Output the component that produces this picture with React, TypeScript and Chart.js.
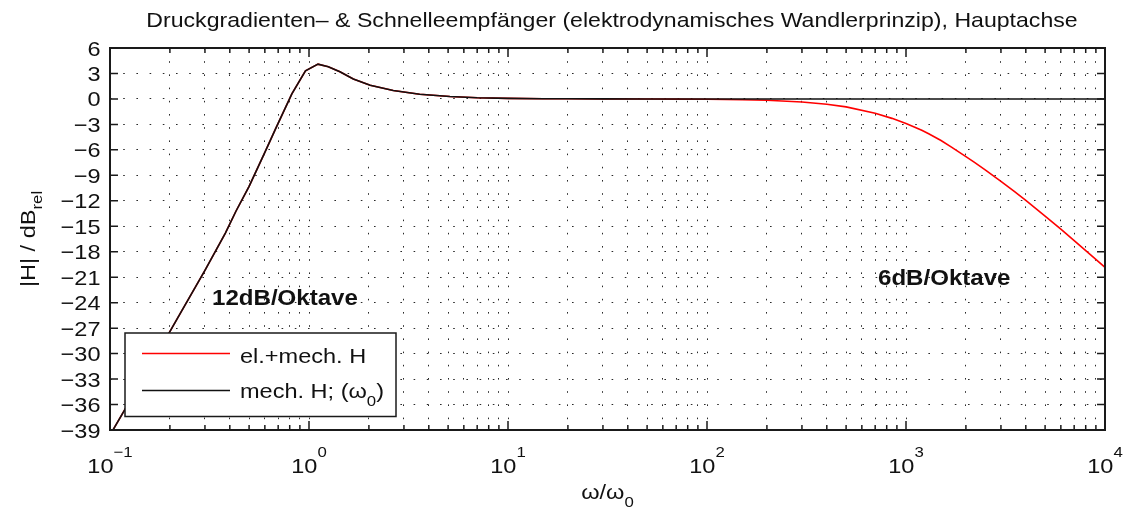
import React, { useEffect, useRef } from 'react';
import { Chart, registerables } from 'chart.js';

Chart.register(...registerables);

// ---- data ----
const omega = [0.1, 0.13, 0.17, 0.22, 0.3, 0.38, 0.43, 0.5, 0.6, 0.68, 0.82, 0.96, 1.11, 1.25, 1.43, 1.67, 2.03, 2.65, 3.6, 5.1, 7, 10, 15, 20, 30, 50, 70, 100, 150, 200, 300, 400, 500, 700, 850, 1000, 1100, 1200, 1300, 1500, 1700, 2000, 2200, 2500, 3000, 3500, 4000, 5000, 6000, 7000, 8500, 10000];
const mechDb = [-39.6, -35.0, -30.3, -25.7, -20.2, -15.8, -13.2, -10.3, -6.3, -3.5, 0.6, 3.3, 4.1, 3.8, 3.2, 2.35, 1.6, 1.0, 0.56, 0.28, 0.14, 0.07, 0.03, 0.02, 0.01, 0, 0, 0, 0, 0, 0, 0, 0, 0, 0, 0, 0, 0, 0, 0, 0, 0, 0, 0, 0, 0, 0, 0, 0, 0, 0, 0];
const elDb = [-39.6, -35.0, -30.3, -25.7, -20.2, -15.8, -13.2, -10.3, -6.3, -3.5, 0.6, 3.3, 4.1, 3.8, 3.2, 2.35, 1.6, 1.0, 0.56, 0.28, 0.14, 0.07, 0.03, 0.02, 0.01, 0, -0.02, -0.04, -0.09, -0.16, -0.36, -0.62, -0.94, -1.68, -2.29, -2.9, -3.3, -3.7, -4.1, -4.9, -5.7, -6.8, -7.45, -8.35, -9.7, -10.9, -11.95, -13.8, -15.35, -16.7, -18.4, -19.85];

const yTickValues = [-39, -36, -33, -30, -27, -24, -21, -18, -15, -12, -9, -6, -3, 0, 3, 6];
const xMajorTicks = [0.1, 1, 10, 100, 1000, 10000];
const xMajorExponents = ['\u22121', '0', '1', '2', '3', '4'];
const xMinorMultipliers = [2, 3, 4, 5, 6, 7, 8, 9];

const titleText = 'Druckgradienten\u2013 & Schnelleempfänger (elektrodynamisches Wandlerprinzip), Hauptachse';
const legendLabels = ['el.+mech. H', 'mech. H; (\u03c9'];
const seriesColors = ['#ff0000', '#111111'];

const FONT = '"Liberation Sans", Arial, Helvetica, sans-serif';
const SX = 1.12;

type Run = { t: string; size: number; dy?: number; bold?: boolean };

function drawRuns(ctx: CanvasRenderingContext2D, runs: Run[], x: number, y: number, align: 'left' | 'center' | 'right', rotate = 0, sx = SX) {
  ctx.save();
  ctx.translate(x, y);
  if (rotate) ctx.rotate(rotate);
  ctx.scale(sx, 1);
  ctx.textBaseline = 'alphabetic';
  ctx.textAlign = 'left';
  ctx.fillStyle = '#111';
  let total = 0;
  const widths = runs.map((r) => {
    ctx.font = `${r.bold ? 'bold ' : ''}${r.size}px ${FONT}`;
    const w = ctx.measureText(r.t).width;
    total += w;
    return w;
  });
  let cx = align === 'left' ? 0 : align === 'center' ? -total / 2 : -total;
  runs.forEach((r, i) => {
    ctx.font = `${r.bold ? 'bold ' : ''}${r.size}px ${FONT}`;
    ctx.fillText(r.t, cx, r.dy || 0);
    cx += widths[i];
  });
  ctx.restore();
}

const decorPlugin = {
  id: 'decor',
  afterDraw(chart: any) {
    const ctx: CanvasRenderingContext2D = chart.ctx;
    const { left, right, top, bottom } = chart.chartArea;
    const xs = chart.scales.x;
    const ys = chart.scales.y;

    // frame
    ctx.save();
    ctx.strokeStyle = '#1a1a1a';
    ctx.lineWidth = 2;
    ctx.strokeRect(left, top, right - left, bottom - top);

    // inner ticks
    ctx.lineWidth = 1.5;
    ctx.beginPath();
    for (const v of yTickValues) {
      const py = ys.getPixelForValue(v);
      ctx.moveTo(left, py); ctx.lineTo(left + 8, py);
      ctx.moveTo(right, py); ctx.lineTo(right - 8, py);
    }
    for (const t of xs.ticks) {
      const px = xs.getPixelForValue(t.value);
      const major = xMajorTicks.some((m) => Math.abs(m - t.value) / m < 1e-6);
      const len = major ? 9 : 5;
      ctx.moveTo(px, bottom); ctx.lineTo(px, bottom - len);
      ctx.moveTo(px, top); ctx.lineTo(px, top + len);
    }
    ctx.stroke();
    ctx.restore();

    // title
    drawRuns(ctx, [{ t: titleText, size: 21 }], 612, 27, 'center', 0, 1.1);

    // y tick labels
    for (const v of yTickValues) {
      const py = ys.getPixelForValue(v);
      const s = v < 0 ? '\u2212' + Math.abs(v) : String(v);
      drawRuns(ctx, [{ t: s, size: 21 }], left - 9.5, py + 7.5, 'right');
    }

    // x tick labels
    xMajorTicks.forEach((v, i) => {
      const px = xs.getPixelForValue(v);
      drawRuns(ctx, [{ t: '10', size: 21 }, { t: xMajorExponents[i], size: 15, dy: -16 }], px, bottom + 43, 'center');
    });

    // axis titles
    drawRuns(ctx, [{ t: '\u03c9/\u03c9', size: 21 }, { t: '0', size: 15, dy: 8 }], (left + right) / 2, bottom + 69, 'center');
    drawRuns(ctx, [{ t: '|H| / dB', size: 21 }, { t: 'rel', size: 15, dy: 7 }], 35, (top + bottom) / 2, 'center', -Math.PI / 2);

    // annotations
    drawRuns(ctx, [{ t: '12dB/Oktave', size: 21.5, bold: true }], 212, 305, 'left');
    drawRuns(ctx, [{ t: '6dB/Oktave', size: 21.5, bold: true }], 878, 285, 'left');

    // legend
    ctx.save();
    ctx.fillStyle = '#fff';
    ctx.fillRect(125, 333, 271, 83.5);
    ctx.strokeStyle = '#1a1a1a';
    ctx.lineWidth = 1.5;
    ctx.strokeRect(125, 333, 271, 83.5);
    ctx.lineWidth = 1.6;
    ctx.strokeStyle = seriesColors[0];
    ctx.beginPath(); ctx.moveTo(142, 353.5); ctx.lineTo(230, 353.5); ctx.stroke();
    ctx.strokeStyle = seriesColors[1];
    ctx.beginPath(); ctx.moveTo(142, 390.5); ctx.lineTo(230, 390.5); ctx.stroke();
    ctx.restore();
    drawRuns(ctx, [{ t: legendLabels[0], size: 21 }], 240, 363, 'left');
    drawRuns(ctx, [{ t: legendLabels[1], size: 21 }, { t: '0', size: 15, dy: 8 }, { t: ')', size: 21 }], 240, 398, 'left');
  },
};

export default function App() {
  const ref = useRef<HTMLCanvasElement | null>(null);
  useEffect(() => {
    if (!ref.current) return;
    const xGridTicks: number[] = [];
    xMajorTicks.forEach((d, i) => {
      xGridTicks.push(d);
      if (i < xMajorTicks.length - 1) xMinorMultipliers.forEach((m) => xGridTicks.push(m * d));
    });
    const chart = new Chart(ref.current, {
      type: 'line',
      data: {
        datasets: [
          {
            label: legendLabels[0],
            data: omega.map((w, i) => ({ x: w, y: elDb[i] })),
            borderColor: seriesColors[0],
            borderWidth: 1.6,
            pointRadius: 0,
            tension: 0,
            fill: false,
            order: 1,
          },
          {
            label: legendLabels[1],
            data: omega.map((w, i) => ({ x: w, y: mechDb[i] })),
            borderColor: seriesColors[1],
            borderWidth: 1.6,
            pointRadius: 0,
            tension: 0,
            fill: false,
            order: 0,
          },
        ],
      },
      options: {
        animation: false,
        responsive: false,
        devicePixelRatio: 1,
        layout: { padding: { top: 48, right: 22, bottom: 0, left: 0 } },
        plugins: { legend: { display: false }, title: { display: false }, tooltip: { enabled: false } },
        events: [],
        scales: {
          x: {
            type: 'logarithmic',
            min: 0.1,
            max: 10000,
            afterBuildTicks: (s: any) => { s.ticks = xGridTicks.map((v) => ({ value: v })); },
            afterFit: (s: any) => { s.height = 87; },
            ticks: { display: false },
            grid: { color: '#2a2a2a', lineWidth: 1, drawTicks: false },
            border: { display: false, dash: [1.6, 11.6] },
          },
          y: {
            type: 'linear',
            min: -39,
            max: 6,
            afterBuildTicks: (s: any) => { s.ticks = yTickValues.map((v) => ({ value: v })); },
            afterFit: (s: any) => { s.width = 110; },
            ticks: { display: false },
            grid: { color: '#2a2a2a', lineWidth: 1, drawTicks: false },
            border: { display: false, dash: [1.6, 11.6] },
          },
        },
      },
      plugins: [decorPlugin],
    } as any);
    return () => chart.destroy();
  }, []);
  return (
    <canvas
      ref={ref}
      width={1127}
      height={517}
      style={{ position: 'absolute', left: 0, top: 0, width: 1127, height: 517 }}
    />
  );
}
